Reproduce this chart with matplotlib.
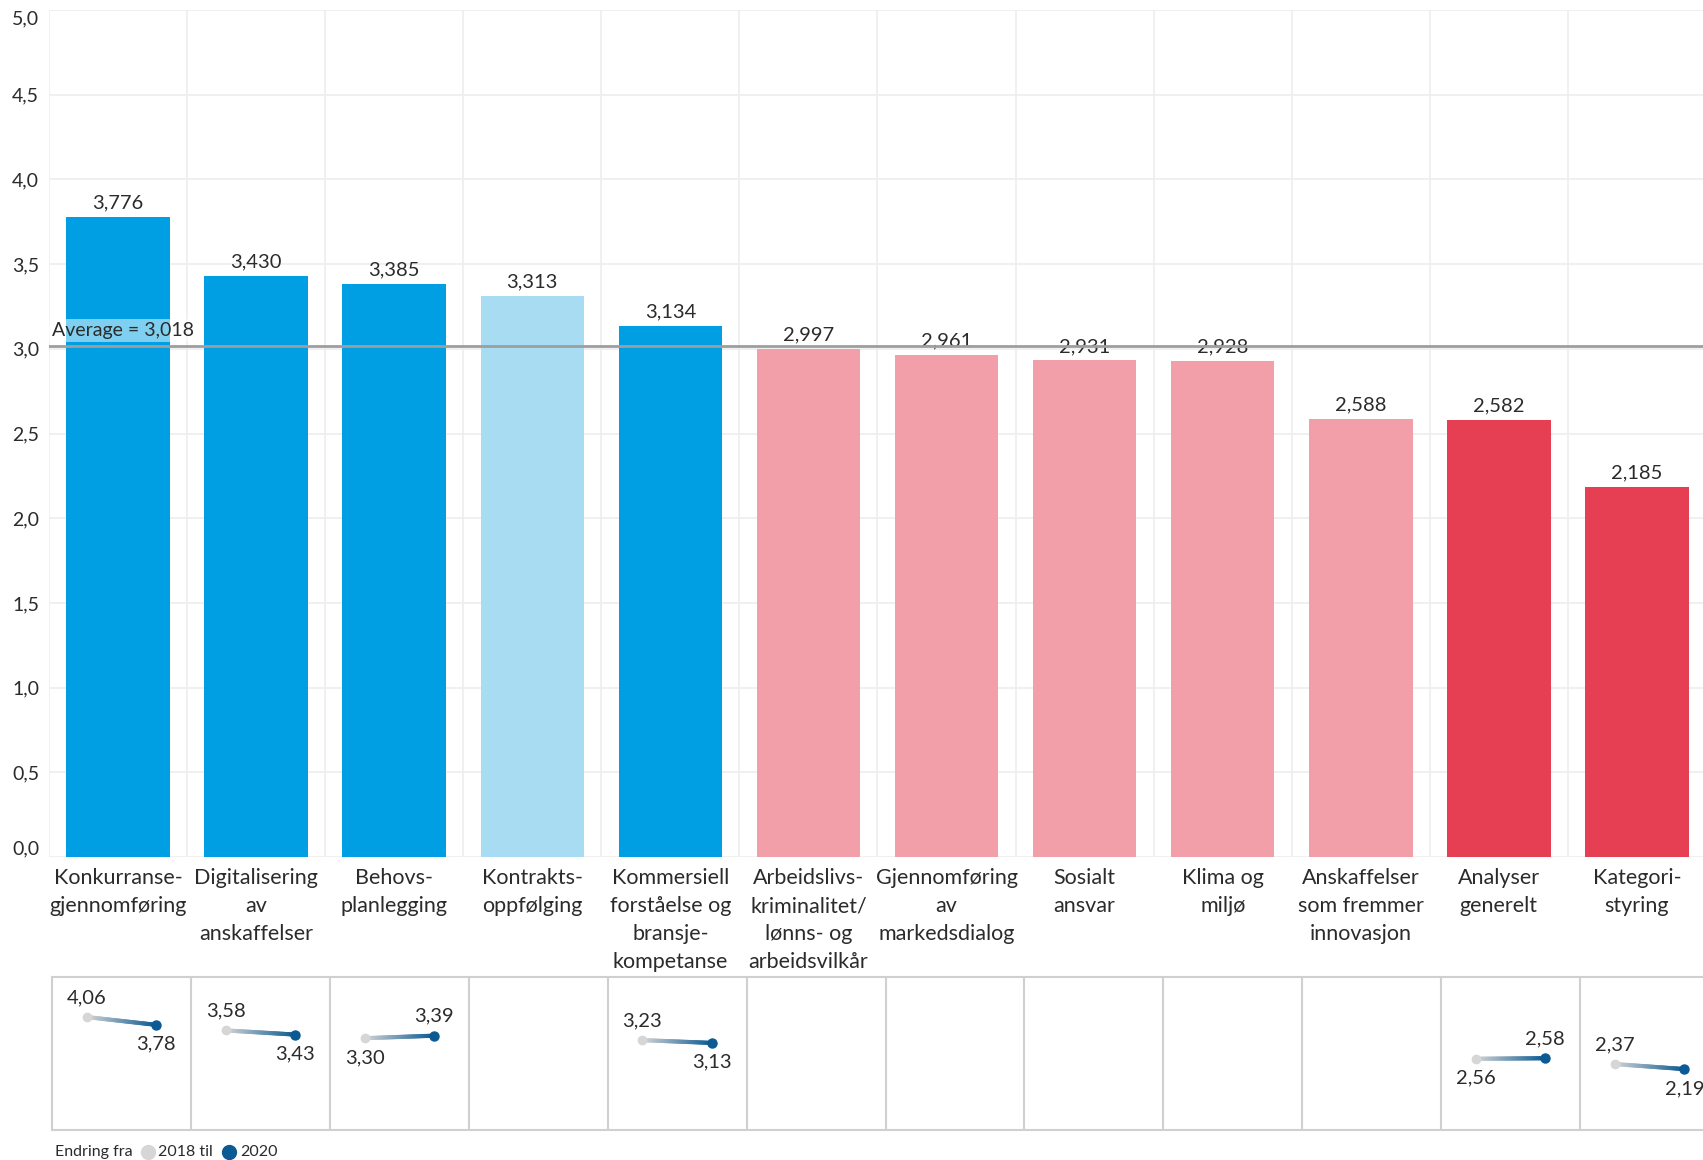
import numpy as np
import matplotlib.pyplot as plt
from matplotlib.collections import LineCollection
from matplotlib.lines import Line2D
from matplotlib.colors import to_rgb

plt.rcParams['font.family'] = ['Lato', 'DejaVu Sans']

categories = ["Konkurranse-\ngjennomføring", "Digitalisering\nav\nanskaffelser",
              "Behovs-\nplanlegging", "Kontrakts-\noppfølging",
              "Kommersiell\nforståelse og\nbransje-\nkompetanse",
              "Arbeidslivs-\nkriminalitet/\nlønns- og\narbeidsvilkår",
              "Gjennomføring\nav\nmarkedsdialog", "Sosialt\nansvar", "Klima og\nmiljø",
              "Anskaffelser\nsom fremmer\ninnovasjon", "Analyser\ngenerelt", "Kategori-\nstyring"]
scores_2020 = [3.776, 3.430, 3.385, 3.313, 3.134, 2.997, 2.961, 2.931, 2.928, 2.588, 2.582, 2.185]
color_groups = ['blue', 'blue', 'blue', 'light', 'blue', 'pink', 'pink', 'pink', 'pink', 'pink', 'red', 'red']
average = 3.018
change_2018 = [4.06, 3.58, 3.30, None, 3.23, None, None, None, None, None, 2.56, 2.37]
change_2020 = [3.78, 3.43, 3.39, None, 3.13, None, None, None, None, None, 2.58, 2.19]
y_ticks = [0.0, 0.5, 1.0, 1.5, 2.0, 2.5, 3.0, 3.5, 4.0, 4.5, 5.0]

palette = {'blue': '#009FE3', 'light': '#A8DCF3', 'pink': '#F39FA9', 'red': '#E63E52'}
txt = '#2B2B2B'
grey_pt = '#D6D6D6'
blue_pt = '#0B5A93'


def comma(v, d):
    return f'{v:.{d}f}'.replace('.', ',')


W, H = 1703, 1160
fig = plt.figure(figsize=(W / 100, H / 100), dpi=100)

# main bar chart
ax = fig.add_axes([49 / W, 1 - 857 / H, (1706 - 49) / W, (857 - 10) / H])
x = np.arange(len(categories))
ax.bar(x, scores_2020, width=0.75, color=[palette[g] for g in color_groups], zorder=2)
ax.set_xlim(-0.5, len(categories) - 0.5)
ax.set_ylim(0, 5)
for s in ax.spines.values():
    s.set_visible(False)

ax.set_yticks(y_ticks)
ax.set_yticklabels([comma(t, 1) for t in y_ticks])
ax.set_xticks(x)
ax.set_xticklabels(categories, linespacing=1.5)
ax.set_xticks(np.arange(len(categories) + 1) - 0.5, minor=True)
ax.tick_params(axis='y', length=0, pad=7, labelsize=14, labelcolor=txt)
ax.tick_params(axis='x', which='both', length=0, pad=8, labelsize=15.5, labelcolor=txt)
labs = ax.get_yticklabels()
labs[0].set_va('bottom')
labs[-1].set_va('top')
ax.grid(axis='y', color='#EEEEEE', lw=1.2, zorder=0)
ax.grid(axis='x', which='minor', color='#EEEEEE', lw=1.2, zorder=0)

for i, v in enumerate(scores_2020):
    ax.annotate(comma(v, 3), (i, v), xytext=(0, 4), textcoords='offset points',
                ha='center', va='bottom', fontsize=14.5, color=txt)

ax.axhline(average, color='#9E9E9E', lw=2, zorder=3)
ax.text(-0.48, average + 0.09, 'Average = ' + comma(average, 3), va='center', ha='left',
        fontsize=14, color=txt, zorder=4,
        bbox=dict(facecolor='white', alpha=0.5, edgecolor='none', pad=2))

# change panel
ax2 = fig.add_axes([52 / W, 1 - 1130 / H, (1719 - 52) / W, (1130 - 977) / H])
ax2.set_xlim(0, len(categories))
ax2.set_ylim(0, 5.5)
ax2.set_xticks([])
ax2.set_yticks([])
for s in ax2.spines.values():
    s.set_color('#D0D0D0')
    s.set_linewidth(1.5)
for k in range(1, len(categories)):
    ax2.axvline(k, color='#D0D0D0', lw=1.5)

c0 = np.array(to_rgb(grey_pt))
c1 = np.array(to_rgb(blue_pt))
for i, (a, b) in enumerate(zip(change_2018, change_2020)):
    if a is None:
        continue
    x0, x1 = i + 0.25, i + 0.75
    n = 40
    t = np.linspace(0, 1, n + 1)
    px = x0 + (x1 - x0) * t
    py = a + (b - a) * t
    segs = [[(px[j], py[j]), (px[j + 1], py[j + 1])] for j in range(n)]
    cols = [c0 + (c1 - c0) * tt for tt in t[:-1]]
    ax2.add_collection(LineCollection(segs, colors=cols, linewidths=3, capstyle='round'))
    ax2.plot(x0, a, 'o', color=grey_pt, ms=6, zorder=3)
    ax2.plot(x1, b, 'o', color=blue_pt, ms=6.5, zorder=3)
    da = 14 if a >= b else -14
    db = -da
    ax2.annotate(comma(a, 2), (x0, a), xytext=(0, da), textcoords='offset points',
                 ha='center', va='center', fontsize=14.5, color=txt)
    ax2.annotate(comma(b, 2), (x1, b), xytext=(0, db), textcoords='offset points',
                 ha='center', va='center', fontsize=14.5, color=txt)

# legend line
ly = 1 - 1152 / H
fig.text(55 / W, ly, 'Endring fra', va='center', ha='left', fontsize=11.5, color=txt)
fig.add_artist(Line2D([148 / W], [ly], marker='o', ms=10, color=grey_pt, transform=fig.transFigure))
fig.text(158 / W, ly, '2018 til', va='center', ha='left', fontsize=11.5, color=txt)
fig.add_artist(Line2D([229 / W], [ly], marker='o', ms=10, color=blue_pt, transform=fig.transFigure))
fig.text(240 / W, ly, '2020', va='center', ha='left', fontsize=11.5, color=txt)

fig.savefig('out.png', dpi=100)
